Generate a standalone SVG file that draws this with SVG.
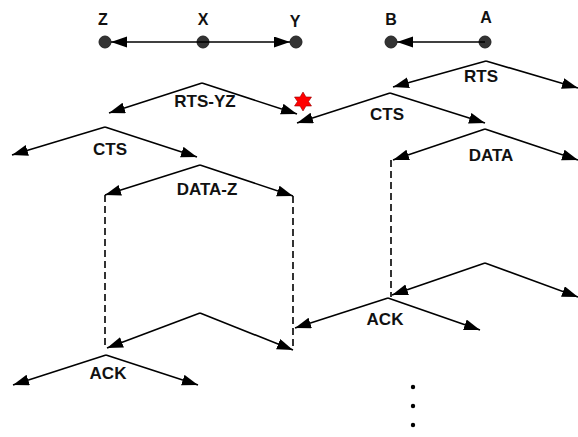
<svg xmlns="http://www.w3.org/2000/svg" width="578" height="437" viewBox="0 0 578 437">
<defs>
<marker id="ah" markerUnits="userSpaceOnUse" markerWidth="17" markerHeight="12" refX="16" refY="5.5" orient="auto">
<path d="M0,0 L16,5.5 L0,11 z" fill="#000"/>
</marker>
<style>
.ln{stroke:#000;stroke-width:1.6;fill:none}
.ar{stroke:#000;stroke-width:1.6;fill:none;marker-end:url(#ah)}
.ds{stroke:#000;stroke-width:1.6;fill:none;stroke-dasharray:7,4}
.nd{fill:#333;stroke:#222;stroke-width:1}
.t{font-family:"Liberation Sans",Arial,sans-serif;font-weight:bold;font-size:17px;text-anchor:middle;fill:#111}
.tn{font-family:"Liberation Sans",Arial,sans-serif;font-weight:bold;font-size:16px;text-anchor:middle;fill:#111}
</style>
</defs>
<g id="nodes">
<g id="Z"><circle class="nd" cx="105" cy="42" r="6"/><text class="tn" x="103" y="25">Z</text></g>
<g id="X"><circle class="nd" cx="203" cy="42" r="6"/><text class="tn" x="203" y="25">X</text></g>
<g id="Y"><circle class="nd" cx="296" cy="42" r="6"/><text class="tn" x="295" y="27">Y</text></g>
<g id="B"><circle class="nd" cx="391" cy="42" r="6"/><text class="tn" x="391" y="25">B</text></g>
<g id="A"><circle class="nd" cx="485" cy="42" r="6"/><text class="tn" x="486" y="23">A</text></g>
</g>
<g id="connectors">
<line class="ar" x1="203" y1="42" x2="111" y2="42"/>
<line class="ar" x1="203" y1="42" x2="290" y2="42"/>
<line class="ar" x1="485" y1="42" x2="397" y2="42"/>
<path class="ar" d="M486,61 L393,87"/>
<path class="ar" d="M486,61 L578,88"/>
<path class="ar" d="M202,83 L109,113"/>
<path class="ar" d="M202,83 L297,114"/>
<path class="ar" d="M390,93 L297,123"/>
<path class="ar" d="M390,93 L485,123"/>
<path class="ar" d="M485,129 L393,160"/>
<path class="ar" d="M485,129 L578,160"/>
<path class="ar" d="M105,127 L12,155"/>
<path class="ar" d="M105,127 L197,157"/>
<path class="ar" d="M200,165 L105,195"/>
<path class="ar" d="M200,165 L293,196"/>
<path class="ds" d="M105,195 L105,347"/>
<path class="ds" d="M293,196 L293,350"/>
<path class="ds" d="M391,160 L391,297"/>
<path class="ar" d="M485,263 L392,295"/>
<path class="ar" d="M485,263 L578,297"/>
<path class="ar" d="M388,298 L295,328"/>
<path class="ar" d="M388,298 L480,330"/>
<path class="ar" d="M200,313 L107,348"/>
<path class="ar" d="M200,313 L293,350"/>
<path class="ar" d="M106,355 L13,385"/>
<path class="ar" d="M106,355 L198,385"/>
</g>
<g id="labels">
<text class="t" x="481" y="82">RTS</text>
<text class="t" x="205" y="107">RTS-YZ</text>
<text class="t" x="387" y="120">CTS</text>
<text class="t" x="491" y="161">DATA</text>
<text class="t" x="110" y="155">CTS</text>
<text class="t" x="207" y="195">DATA-Z</text>
<text class="t" x="385" y="325">ACK</text>
<text class="t" x="108" y="379">ACK</text>
</g>
<g id="star">
<polygon points="303,92 306,97 311.5,97 308.5,101.5 311.5,106 306,106 303,111 300,106 294.5,106 297.5,101.5 294.5,97 300,97" fill="#f00" stroke="#900" stroke-width="0.6"/>
</g>
<g id="dots" fill="#000">
<circle cx="413" cy="387" r="2.2"/>
<circle cx="413" cy="406" r="2.2"/>
<circle cx="413" cy="425" r="2.2"/>
</g>
</svg>
